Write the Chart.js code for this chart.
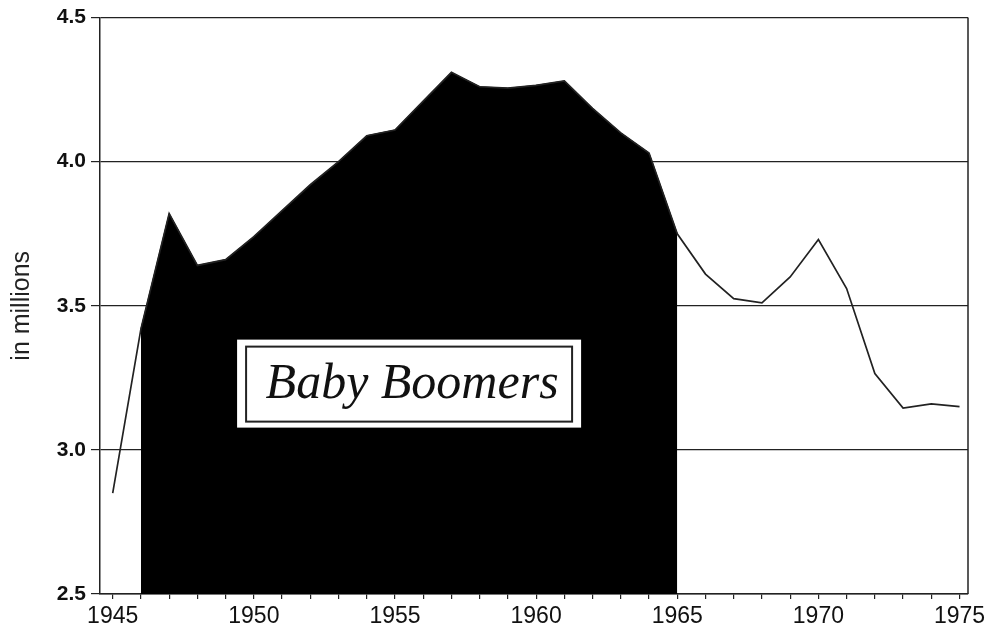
<!DOCTYPE html>
<html lang="en">
<head>
    <meta charset="UTF-8">
    <title>Baby Boomers - Births</title>
    <script src="https://cdn.jsdelivr.net/npm/chart.js"></script>
    <style>
        body {
            margin: 0;
            padding: 0;
            background-color: #fff;
        }

        #wrap {
            width: 985px;
            height: 628px;
            position: relative;
        }
    </style>
</head>
<body>
    <div id="wrap">
        <canvas id="births-chart"></canvas>
    </div>

    <script>
        // Births per year, in millions
        const years = [1945, 1946, 1947, 1948, 1949, 1950, 1951, 1952, 1953, 1954,
            1955, 1956, 1957, 1958, 1959, 1960, 1961, 1962, 1963, 1964,
            1965, 1966, 1967, 1968, 1969, 1970, 1971, 1972, 1973, 1974, 1975];
        const births = [2.85, 3.42, 3.82, 3.64, 3.66, 3.74, 3.83, 3.92, 4.00, 4.09,
            4.11, 4.21, 4.31, 4.26, 4.255, 4.265, 4.28, 4.185, 4.10, 4.03,
            3.75, 3.61, 3.525, 3.51, 3.60, 3.73, 3.56, 3.265, 3.145, 3.16, 3.15];
        const boomYears = [1946, 1965];
        const yTicks = [2.5, 3.0, 3.5, 4.0, 4.5];
        const xLabelYears = [1945, 1950, 1955, 1960, 1965, 1970, 1975];
        const boxLabel = 'Baby Boomers';

        const linePoints = years.map((yr, i) => ({ x: yr, y: births[i] }));
        const boomPoints = linePoints.filter(p => p.x >= boomYears[0] && p.x <= boomYears[1]);

        // white label box sitting on the black area
        const boxPlugin = {
            id: 'boxPlugin',
            afterDatasetsDraw(chart) {
                const { ctx, scales: { x, y } } = chart;
                const cx = x.getPixelForValue(1955.5);
                const cy = y.getPixelForValue(3.23);
                const w = 344, h = 88;
                ctx.save();
                ctx.fillStyle = '#fff';
                ctx.fillRect(cx - w / 2, cy - h / 2, w, h);
                ctx.strokeStyle = '#222';
                ctx.lineWidth = 2;
                ctx.strokeRect(cx - w / 2 + 9, cy - h / 2 + 7, w - 18, h - 13);
                ctx.fillStyle = '#111';
                ctx.font = 'italic 50px "Liberation Serif", "Times New Roman", serif';
                ctx.textAlign = 'center';
                ctx.textBaseline = 'alphabetic';
                ctx.fillText(boxLabel, cx + 3, cy + 14);
                ctx.restore();
            },
            afterDraw(chart) {
                // right frame line
                const { ctx, chartArea } = chart;
                ctx.save();
                ctx.strokeStyle = '#222';
                ctx.lineWidth = 1.5;
                ctx.beginPath();
                ctx.moveTo(chartArea.right, chartArea.top);
                ctx.lineTo(chartArea.right, chartArea.bottom);
                ctx.stroke();
                ctx.restore();
            }
        };

        new Chart(document.getElementById('births-chart'), {
            type: 'line',
            data: {
                datasets: [{
                    label: 'Births',
                    data: linePoints,
                    borderColor: '#222',
                    borderWidth: 1.7,
                    pointRadius: 0,
                    fill: false,
                    tension: 0
                }, {
                    label: 'Baby Boomers',
                    data: boomPoints,
                    borderColor: '#000',
                    borderWidth: 1,
                    backgroundColor: '#000',
                    pointRadius: 0,
                    fill: 'start',
                    tension: 0
                }]
            },
            options: {
                responsive: true,
                maintainAspectRatio: false,
                animation: false,
                layout: {
                    padding: { top: 16, right: 17, left: 0, bottom: 0 }
                },
                plugins: {
                    legend: { display: false },
                    tooltip: { enabled: false }
                },
                scales: {
                    x: {
                        type: 'linear',
                        min: 1944.55,
                        max: 1975.3,
                        afterBuildTicks: (scale) => {
                            // one tick mark per year
                            scale.ticks = years.map(v => ({ value: v }));
                        },
                        afterFit: (scale) => {
                            scale.height = 34;
                            // let the 1975 label hang into the right margin
                            scale.paddingLeft = 0;
                            scale.paddingRight = 0;
                        },
                        border: { display: true, color: '#222', width: 1.5 },
                        grid: {
                            display: true,
                            drawOnChartArea: false,
                            drawTicks: true,
                            tickLength: 5,
                            color: '#222',
                            lineWidth: 1.2
                        },
                        ticks: {
                            autoSkip: false,
                            maxRotation: 0,
                            padding: 4,
                            color: '#111',
                            font: { family: 'Arial, "Liberation Sans", sans-serif', size: 23 },
                            callback: (v) => xLabelYears.includes(v) ? String(v) : ''
                        }
                    },
                    y: {
                        min: yTicks[0],
                        max: yTicks[yTicks.length - 1],
                        afterFit: (scale) => { scale.width = 100; },
                        border: { display: true, color: '#222', width: 1.5 },
                        grid: {
                            color: '#222',
                            lineWidth: 1.2,
                            tickLength: 9
                        },
                        ticks: {
                            stepSize: 0.5,
                            padding: 5,
                            color: '#111',
                            font: { family: 'Arial, "Liberation Sans", sans-serif', size: 21, weight: 'bold' },
                            callback: (v) => v.toFixed(1)
                        },
                        title: {
                            display: true,
                            text: 'in millions',
                            color: '#222',
                            padding: { top: 7, bottom: 0 },
                            font: { family: 'Arial, "Liberation Sans", sans-serif', size: 25 }
                        }
                    }
                }
            },
            plugins: [boxPlugin]
        });
    </script>
</body>
</html>
